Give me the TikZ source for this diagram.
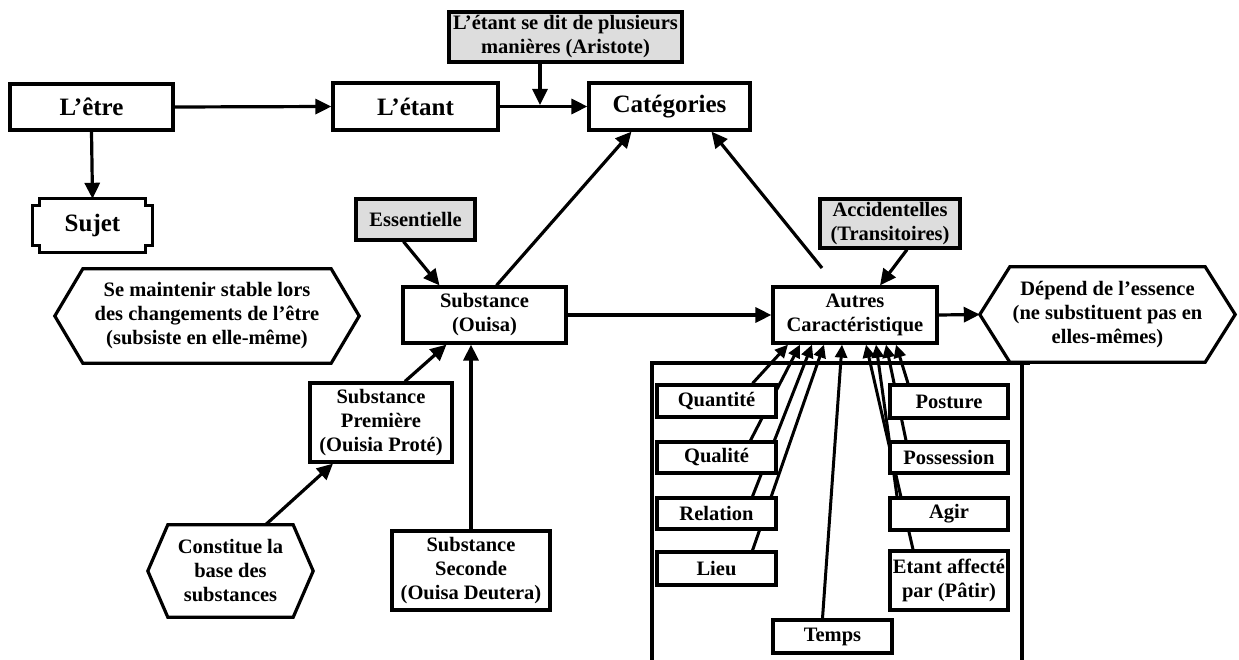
\documentclass[tikz,border=0pt]{standalone}
\usepackage{fontspec}
\setmainfont{Liberation Serif}
\usetikzlibrary{arrows.meta,calc}
\pgfdeclarelayer{background}
\pgfsetlayers{background,main}
\definecolor{notegray}{RGB}{221,221,221}
% hexagonal outline around a named node: #1 node, #2 depth of the side points
\newcommand\hexframe[2]{%
  \draw[outline] (#1.west) -- ([xshift=#2]#1.north west) -- ([xshift=-#2]#1.north east)
    -- (#1.east) -- ([xshift=-#2]#1.south east) -- ([xshift=#2]#1.south west) -- cycle;}
\tikzset{
  outline/.style={line width=3.2pt, line join=miter},
  txt/.style={font=\bfseries\fontsize{20.5}{24}\selectfont},
  bigtxt/.style={font=\bfseries\fontsize{25}{28}\selectfont},
  box/.style={txt, draw, line width=3.2pt, fill=white, align=center, inner sep=0pt},
  bigbox/.style={box, bigtxt},
  notebox/.style={box, fill=notegray},
  hexnode/.style={txt, align=center, inner sep=0pt},
  link/.style={line width=3.2pt, -{Triangle[length=16pt,width=15pt]}},
  catlink/.style={line width=3pt, -{Triangle[length=13pt,width=12pt]}},
}
\begin{document}
\begin{tikzpicture}[x=1pt,y=-1pt]
\useasboundingbox (0,0) rectangle (1239,660);

% top row
\node[bigbox, minimum width=163, minimum height=46] (etre) at (91.5,107) {L’être};
\node[bigbox, minimum width=165, minimum height=47] (etant) at (415.5,106.5) {L’étant};
\node[bigbox, minimum width=161, minimum height=47] (cat) at (669.5,106.5) {Catégories};
\node[notebox, minimum width=233, minimum height=50] (aristote) at (565.5,37)
  {L’étant se dit de plusieurs\\manières (Aristote)};

% subject
\node[bigtxt, inner sep=0pt, minimum width=119, minimum height=53] (sujet) at (92.5,225.5) {Sujet};
\draw[outline] ($(sujet.north west)+(0,7)$) -- ++(7,0) -- ++(0,-7)
  -- ($(sujet.north east)+(-7,0)$) -- ++(0,7) -- ++(7,0)
  -- ($(sujet.south east)+(0,-7)$) -- ++(-7,0) -- ++(0,7)
  -- ($(sujet.south west)+(7,0)$) -- ++(0,-7) -- ++(-7,0) -- cycle;

% middle row
\node[notebox, minimum width=119, minimum height=41] (essent) at (415.5,219.5) {Essentielle};
\node[notebox, minimum width=140, minimum height=49] (accid) at (890,223.5)
  {Accidentelles\\(Transitoires)};
\node[box, minimum width=163, minimum height=56] (subst) at (484.5,315) {Substance\\(Ouisa)};
\node[box, minimum width=164, minimum height=56] (autres) at (855,315) {Autres\\Caractéristique};

\node[hexnode, minimum width=304, minimum height=94] (stable) at (207,316)
  {Se maintenir stable lors\\des changements de l’être\\(subsiste en elle-même)};
\hexframe{stable}{28}
\node[hexnode, minimum width=255, minimum height=95] (depend) at (1107.5,314.5)
  {Dépend de l’essence\\(ne substituent pas en\\elles-mêmes)};
\hexframe{depend}{30}

% lower left
\node[box, minimum width=142, minimum height=79] (premiere) at (381,422.5)
  {Substance\\Première\\(Ouisia Proté)};
\node[box, minimum width=158, minimum height=79] (seconde) at (471,570.5)
  {Substance\\Seconde\\(Ouisa Deutera)};
\node[hexnode, minimum width=165, minimum height=92] (base) at (230.5,571)
  {Constitue la\\base des\\substances};
\hexframe{base}{20}

% frame holding the accidental categories
\draw[outline] (652,660) -- (652,363) -- (1030,363);
\draw[outline] (1022,363) -- (1022,660);

% accidental categories
\node[box, minimum width=119, minimum height=32] (quant) at (716.5,401) {Quantité};
\node[box, minimum width=119, minimum height=31] (qual) at (716.5,457.5) {Qualité};
\node[box, minimum width=119, minimum height=31] (rel) at (716.5,513.5) {Relation};
\node[box, minimum width=119, minimum height=33] (lieu) at (716.5,568.5) {Lieu};
\node[box, minimum width=118, minimum height=33] (post) at (949,401.5) {Posture};
\node[box, minimum width=118, minimum height=31] (poss) at (949,457.5) {Possession};
\node[box, minimum width=118, minimum height=32] (agir) at (949,514) {Agir};
\node[box, minimum width=118, minimum height=59] (patir) at (949,580.5)
  {Etant affecté\\par (Pâtir)};
\node[box, minimum width=119, minimum height=33] (temps) at (832.5,636.5) {Temps};

\coordinate (join) at (540,105);
\coordinate (autfoot) at (822,268);

\begin{pgfonlayer}{background}
  \draw[link] (etre.east) -- (etant.west);
  \draw[link] (etre.south) -- (sujet.north);
  \draw[link] (etant.east) -- (cat.west);
  \draw[link] (aristote.south -| join) -- (join);
  \draw[link] ([xshift=-12]essent.south) -- ([xshift=-45]subst.north);
  \draw[link] ([xshift=12]subst.north) -- ([xshift=-38]cat.south);
  \draw[link] (autfoot) -- ([xshift=42]cat.south);
  \draw[link] (subst.east) -- (autres.west);
  \draw[link] ([xshift=17]accid.south) -- ([xshift=25]autres.north);
  \draw[link] (autres.east) -- (depend.west);
  \draw[link] ([xshift=24]premiere.north) -- ([xshift=-38]subst.south);
  \draw[link] (seconde.north) -- (seconde.north |- subst.south);
  \draw[link] ([xshift=35]base.north) -- ([xshift=-48]premiere.south);
  % categories towards the accidents
  \draw[catlink] ([xshift=36]quant.north) -- ([xshift=-67]autres.south);
  \draw[catlink] ([xshift=34]qual.north) -- ([xshift=-55]autres.south);
  \draw[catlink] ([xshift=36]rel.north) -- ([xshift=-43]autres.south);
  \draw[catlink] ([xshift=36]lieu.north) -- ([xshift=-31]autres.south);
  \draw[catlink] ([xshift=-10]temps.north) -- ([xshift=-13]autres.south);
  \draw[catlink] ([xshift=-36]patir.north) -- ([xshift=11]autres.south);
  \draw[catlink] ([xshift=-52]agir.north) -- ([xshift=21]autres.south);
  \draw[catlink] ([xshift=-43]poss.north) -- ([xshift=31]autres.south);
  \draw[catlink] ([xshift=-41]post.north) -- ([xshift=41]autres.south);
\end{pgfonlayer}
\end{tikzpicture}
\end{document}
